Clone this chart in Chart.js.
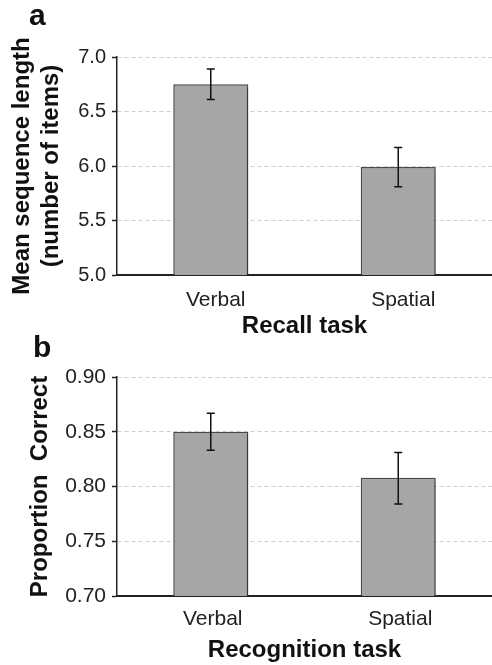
<!DOCTYPE html>
<html>
<head>
<meta charset="utf-8">
<script src="https://cdn.jsdelivr.net/npm/chart.js@4.4.1/dist/chart.umd.min.js"></script>
<style>
  html, body {
    margin: 0;
    padding: 0;
    background: #ffffff;
  }

  body {
    position: relative;
    width: 492px;
    height: 665px;
    overflow: hidden;
    font-family: "Liberation Sans", Arial, sans-serif;
  }

  .panel {
    position: absolute;
    left: 0;
    width: 492px;
  }

  #panelA {
    top: 0;
    height: 341px;
  }

  #panelB {
    top: 335px;
    height: 330px;
  }

  .letter {
    position: absolute;
    font-size: 30px;
    line-height: 30px;
    font-weight: bold;
    color: #111111;
  }
</style>
</head>
<body>

<div class="panel" id="panelA"><canvas id="recallChart"></canvas></div>
<div class="panel" id="panelB"><canvas id="recognitionChart"></canvas></div>

<div class="letter" style="left: 29px; top: 0px;">a</div>
<div class="letter" style="left: 33px; top: 332px;">b</div>

<script>
// ======================================
// Data
// ======================================

const taskLabels = ["Verbal", "Spatial"];

const recallMeans = [6.75, 5.99];
const recallLow = [6.61, 5.81];
const recallHigh = [6.89, 6.17];

const recognitionMeans = [0.85, 0.808];
const recognitionLow = [0.833, 0.784];
const recognitionHigh = [0.867, 0.831];


// ======================================
// Styles
// ======================================

const fontFamily = "'Liberation Sans', Arial, Helvetica, sans-serif";
const barFill = "#a6a6a6";
const barEdge = "#4a4a4a";
const axisColor = "#222222";
const gridColor = "#cfcfcf";


// ======================================
// Bar shadow + error bars plugin
// ======================================

function makeBarDecorPlugin(low, high) {
  return {
    id: "barDecor",
    beforeDatasetsDraw(chart) {
      const ctx = chart.ctx;

      ctx.save();
      ctx.shadowColor = "rgba(0, 0, 0, 0.35)";
      ctx.shadowOffsetX = 2;
      ctx.shadowOffsetY = 2;
      ctx.shadowBlur = 3;
    },
    afterDatasetsDraw(chart) {
      const ctx = chart.ctx;

      ctx.restore();

      const meta = chart.getDatasetMeta(0);
      const yScale = chart.scales.y;

      ctx.save();
      ctx.strokeStyle = "#111111";
      ctx.lineWidth = 1.5;

      meta.data.forEach((bar, index) => {
        const x = bar.x;
        const yLow = yScale.getPixelForValue(low[index]);
        const yHigh = yScale.getPixelForValue(high[index]);

        ctx.beginPath();
        ctx.moveTo(x, yLow);
        ctx.lineTo(x, yHigh);
        ctx.moveTo(x - 4, yLow);
        ctx.lineTo(x + 4, yLow);
        ctx.moveTo(x - 4, yHigh);
        ctx.lineTo(x + 4, yHigh);
        ctx.stroke();
      });

      ctx.restore();
    }
  };
}


// ======================================
// Bar chart
// ======================================

function createBarChart(canvasId, setup) {
  const ctx = document.getElementById(canvasId);

  if (!ctx) {
    return;
  }

  return new Chart(ctx, {
    type: "bar",
    data: {
      labels: taskLabels,
      datasets: [
        {
          data: setup.values,
          backgroundColor: barFill,
          borderColor: barEdge,
          borderWidth: 1.5,
          borderSkipped: false,
          barPercentage: 0.4,
          categoryPercentage: 1
        }
      ]
    },
    options: {
      responsive: true,
      maintainAspectRatio: false,
      animation: false,
      layout: {
        padding: {
          top: setup.padTop,
          left: 0,
          right: 0,
          bottom: 0
        }
      },
      plugins: {
        legend: {
          display: false
        },
        tooltip: {
          enabled: false
        }
      },
      scales: {
        x: {
          afterFit: (scale) => {
            scale.height = setup.xHeight;
          },
          grid: {
            display: false
          },
          border: {
            display: true,
            color: axisColor,
            width: 2
          },
          ticks: {
            color: axisColor,
            padding: setup.xTickPad,
            labelOffset: setup.labelOffset,
            font: {
              family: fontFamily,
              size: 21
            }
          },
          title: {
            display: true,
            text: setup.xTitle,
            color: "#111111",
            padding: {
              top: 0,
              bottom: 0
            },
            font: {
              family: fontFamily,
              size: 24,
              weight: "bold"
            }
          }
        },
        y: {
          min: setup.yMin,
          max: setup.yMax,
          afterFit: (scale) => {
            scale.width = 117;
          },
          grid: {
            color: (c) => {
              return Math.abs(c.tick.value - setup.yMin) < 1e-9
                ? "rgba(0, 0, 0, 0)"
                : gridColor;
            },
            lineWidth: 1,
            tickColor: axisColor,
            tickLength: 5,
            tickWidth: 1.5
          },
          border: {
            display: true,
            color: axisColor,
            width: 1.5,
            dash: [4, 3]
          },
          ticks: {
            stepSize: setup.step,
            color: axisColor,
            padding: 6,
            font: {
              family: fontFamily,
              size: setup.tickSize
            },
            callback: (value) => Number(value).toFixed(setup.decimals)
          },
          title: {
            display: true,
            text: setup.yTitle,
            color: "#111111",
            padding: {
              top: setup.titlePad,
              bottom: 0
            },
            font: {
              family: fontFamily,
              size: 24,
              weight: "bold"
            }
          }
        }
      }
    },
    plugins: [makeBarDecorPlugin(setup.low, setup.high)]
  });
}


// ======================================
// Main
// ======================================

createBarChart("recallChart", {
  values: recallMeans,
  low: recallLow,
  high: recallHigh,
  yMin: 5,
  yMax: 7,
  step: 0.5,
  decimals: 1,
  tickSize: 20,
  yTitle: ["Mean sequence length", "(number of items)"],
  xTitle: "Recall task",
  titlePad: 8,
  padTop: 57,
  xHeight: 66,
  xTickPad: 5,
  labelOffset: 5
});

createBarChart("recognitionChart", {
  values: recognitionMeans,
  low: recognitionLow,
  high: recognitionHigh,
  yMin: 0.7,
  yMax: 0.9,
  step: 0.05,
  decimals: 2,
  tickSize: 21,
  yTitle: "Proportion  Correct",
  xTitle: "Recognition task",
  titlePad: 26,
  padTop: 42,
  xHeight: 69,
  xTickPad: 3,
  labelOffset: 2
});
</script>
</body>
</html>
